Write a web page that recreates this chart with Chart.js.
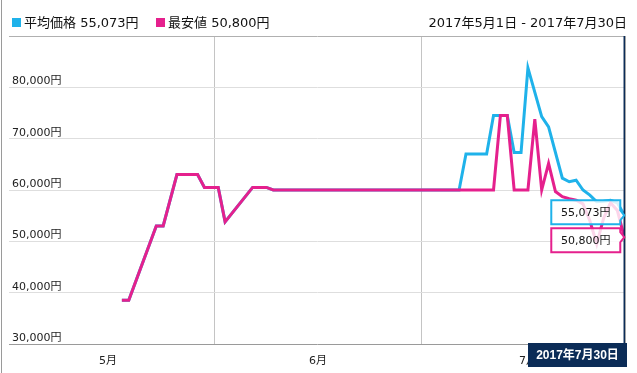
<!DOCTYPE html>
<html><head><meta charset="utf-8">
<script src="https://cdn.jsdelivr.net/npm/chart.js@4/dist/chart.umd.min.js"></script>
<style>
html,body{margin:0;padding:0;background:#fff;}
#wrap{position:relative;width:637px;height:373px;overflow:hidden;}
#edge{position:absolute;left:1px;top:0;width:1px;height:373px;background:#9a9a9a;}
.hd{position:absolute;top:15px;height:16px;line-height:16px;font-size:13px;font-family:"DejaVu Sans","Noto Sans CJK JP",sans-serif;color:#111;white-space:nowrap;}
.sw{position:absolute;top:18px;width:9px;height:9px;}
canvas{position:absolute;left:0;top:0;}
</style></head>
<body><div id="wrap">
<canvas id="c" width="637" height="373"></canvas>
<div id="edge"></div>
<div class="sw" id="sw1" style="left:12px"></div><div class="hd" id="t1" style="left:24px"></div>
<div class="sw" id="sw2" style="left:156px"></div><div class="hd" id="t2" style="left:168px"></div>
<div class="hd" id="range" style="right:10px"></div>
</div>
<script>
const YEAR = 2017;
const seriesNames = ['平均価格', '最安値'];
const rangeStart = '05-01';
const rangeEnd = '07-30';
const avgDates = ['05-18','05-19','05-23','05-24','05-26','05-29','05-30','06-01','06-02','06-06','06-08','06-09','07-06','07-07','07-10','07-11','07-13','07-14','07-15','07-16','07-18','07-19','07-21','07-22','07-23','07-24','07-25','07-26','07-27','07-28','07-29','07-30'];
const avgValues = [38500,38500,53000,53000,63000,63000,60500,60500,53800,60500,60500,60000,60000,67000,67000,74500,74500,67300,67300,83800,74300,72300,62300,61600,61900,60000,59000,57700,57800,58000,57500,55073];
const minDates = ['05-18','05-19','05-23','05-24','05-26','05-29','05-30','06-01','06-02','06-06','06-08','06-09','07-11','07-12','07-13','07-14','07-16','07-17','07-18','07-19','07-20','07-21','07-22','07-23','07-24','07-25','07-26','07-27','07-28','07-29','07-30'];
const minValues = [38500,38500,53000,53000,63000,63000,60500,60500,53800,60500,60500,60000,60000,74500,74500,60000,60000,73800,60000,65200,59700,58700,58300,58000,57300,54000,49500,54500,57500,56000,50800];
const monthStarts = ['05-01','06-01','07-01','08-01'];
const monthLabels = ['5月','6月','7月'];
const yTicks = [30000,40000,50000,60000,70000,80000,90000];

const C_AVG = '#1FB2EA', C_MIN = '#E5208D', NAVY = '#0B2C57';
const FONT = '"DejaVu Sans","Noto Sans CJK JP",sans-serif';
const X_MIN = 1.1, X_MAX = 90.75;

function dayIdx(mmdd){ const [m,d] = mmdd.split('-').map(Number); return (Date.UTC(YEAR,m-1,d) - Date.UTC(YEAR,4,1))/86400000; }
function fmt(n){ return n.toString().replace(/\B(?=(\d{3})+(?!\d))/g, ','); }
function jpDate(mmdd){ const [m,d] = mmdd.split('-').map(Number); return YEAR+'年'+m+'月'+d+'日'; }

const lastAvg = avgValues[avgValues.length-1], lastMin = minValues[minValues.length-1];
document.getElementById('sw1').style.background = C_AVG;
document.getElementById('sw2').style.background = C_MIN;
document.getElementById('t1').textContent = seriesNames[0] + ' ' + fmt(lastAvg) + '円';
document.getElementById('t2').textContent = seriesNames[1] + ' ' + fmt(lastMin) + '円';
document.getElementById('range').textContent = jpDate(rangeStart) + ' - ' + jpDate(rangeEnd);

const monthIdx = monthStarts.map(dayIdx);
const monthCenters = monthLabels.map((_, i) => (monthIdx[i] + monthIdx[i+1]) / 2);

const overlay = {
  id: 'overlay',
  afterDatasetsDraw(chart) {
    const {ctx, chartArea: a, scales} = chart;
    ctx.save();
    ctx.strokeStyle = '#a8a8a8'; ctx.lineWidth = 1;
    ctx.beginPath(); ctx.moveTo(Math.round(a.right)-0.5, a.top); ctx.lineTo(Math.round(a.right)-0.5, a.bottom); ctx.stroke();
    const lastDate = avgDates[avgDates.length-1];
    const tip = scales.x.getPixelForValue(dayIdx(lastDate) + 0.5);
    ctx.strokeStyle = NAVY; ctx.lineWidth = 1.5;
    ctx.beginPath(); ctx.moveTo(tip, a.top); ctx.lineTo(tip, a.bottom); ctx.stroke();
    const h = 24, gap = 4;
    const b = [
      {v: lastAvg, color: C_AVG},
      {v: lastMin, color: C_MIN}
    ];
    b.forEach(o => { o.yv = scales.y.getPixelForValue(o.v); o.c = o.yv; });
    if (Math.abs(b[0].c - b[1].c) < h + gap) {
      const m = (b[0].yv + b[1].yv)/2, s = (h+gap)/2;
      if (b[0].yv <= b[1].yv) { b[0].c = m - s; b[1].c = m + s; } else { b[0].c = m + s; b[1].c = m - s; }
    }
    b.forEach(o => {
      const R = tip - 4, L = R - 69, T = o.c - h/2, B = o.c + h/2;
      const ay = Math.min(Math.max(o.yv, T + 6), B - 6);
      ctx.beginPath();
      ctx.moveTo(L, T); ctx.lineTo(R, T); ctx.lineTo(R, ay - 5); ctx.lineTo(tip, ay); ctx.lineTo(R, ay + 5);
      ctx.lineTo(R, B); ctx.lineTo(L, B); ctx.closePath();
      ctx.fillStyle = 'rgba(255,255,255,0.82)'; ctx.fill();
      ctx.strokeStyle = o.color; ctx.lineWidth = 2; ctx.lineJoin = 'miter'; ctx.stroke();
      ctx.fillStyle = '#111'; ctx.font = '11px ' + FONT; ctx.textAlign = 'center'; ctx.textBaseline = 'middle';
      ctx.fillText(fmt(o.v) + '円', (L + R)/2, o.c + 0.5);
    });
    const bw = 99, bh = 24, bx = Math.min(tip + bw/2, a.right + 1) - bw, by = a.bottom - 1;
    ctx.fillStyle = NAVY; ctx.fillRect(bx, by, bw, bh);
    ctx.fillStyle = '#fff'; ctx.font = 'bold 12px "Liberation Sans","Noto Sans CJK JP",sans-serif';
    ctx.textAlign = 'center'; ctx.textBaseline = 'middle';
    ctx.fillText(jpDate(lastDate), bx + bw/2, by + bh/2 + 0.5);
    ctx.restore();
  }
};

new Chart(document.getElementById('c'), {
  type: 'line',
  data: {
    datasets: [
      { label: seriesNames[1], data: minDates.map((d,i) => ({x: dayIdx(d)+0.5, y: minValues[i]})), borderColor: C_MIN, backgroundColor: C_MIN, borderWidth: 3, pointRadius: 0, tension: 0, order: 0 },
      { label: seriesNames[0], data: avgDates.map((d,i) => ({x: dayIdx(d)+0.5, y: avgValues[i]})), borderColor: C_AVG, backgroundColor: C_AVG, borderWidth: 3, pointRadius: 0, tension: 0, order: 1 }
    ]
  },
  options: {
    responsive: false, animation: false, devicePixelRatio: 1,
    layout: { padding: { left: 9, top: 36, right: 11, bottom: 0 } },
    plugins: { legend: { display: false }, tooltip: { enabled: false } },
    scales: {
      x: { type: 'linear', position: 'bottom', min: X_MIN, max: X_MAX,
        afterBuildTicks: s => { s.ticks = monthIdx.slice(1,3).map(v => ({value: v})); },
        ticks: { display: false }, grid: { color: '#c4c4c4', drawTicks: false }, border: { display: false },
        afterFit: s => { s.height = 0; s.paddingLeft = 0; s.paddingRight = 0; } },
      xl: { type: 'linear', position: 'bottom', min: X_MIN, max: X_MAX,
        afterBuildTicks: s => { s.ticks = monthCenters.map(v => ({value: v})); },
        ticks: { callback: (v, i) => monthLabels[i], padding: 3, maxRotation: 0, autoSkip: false, color: '#222', font: { size: 11, family: FONT } },
        grid: { display: false }, border: { display: false },
        afterFit: s => { s.height = 29; s.paddingLeft = 0; s.paddingRight = 0; } },
      y: { min: 30000, max: 90000,
        afterBuildTicks: s => { s.ticks = yTicks.map(v => ({value: v})); },
        ticks: { mirror: true, padding: 3, labelOffset: -6, color: '#222', font: { size: 11, family: FONT },
          callback: v => v === yTicks[yTicks.length-1] ? '' : fmt(v) + '円' },
        grid: { drawTicks: false, color: c => c.tick.value === 30000 ? '#9a9a9a' : (c.tick.value === 90000 ? '#b0b0b0' : '#dedede') },
        border: { display: false },
        afterFit: s => { s.width = 0; s.paddingTop = 0; s.paddingBottom = 0; } }
    }
  },
  plugins: [overlay]
});
</script>
</body></html>
